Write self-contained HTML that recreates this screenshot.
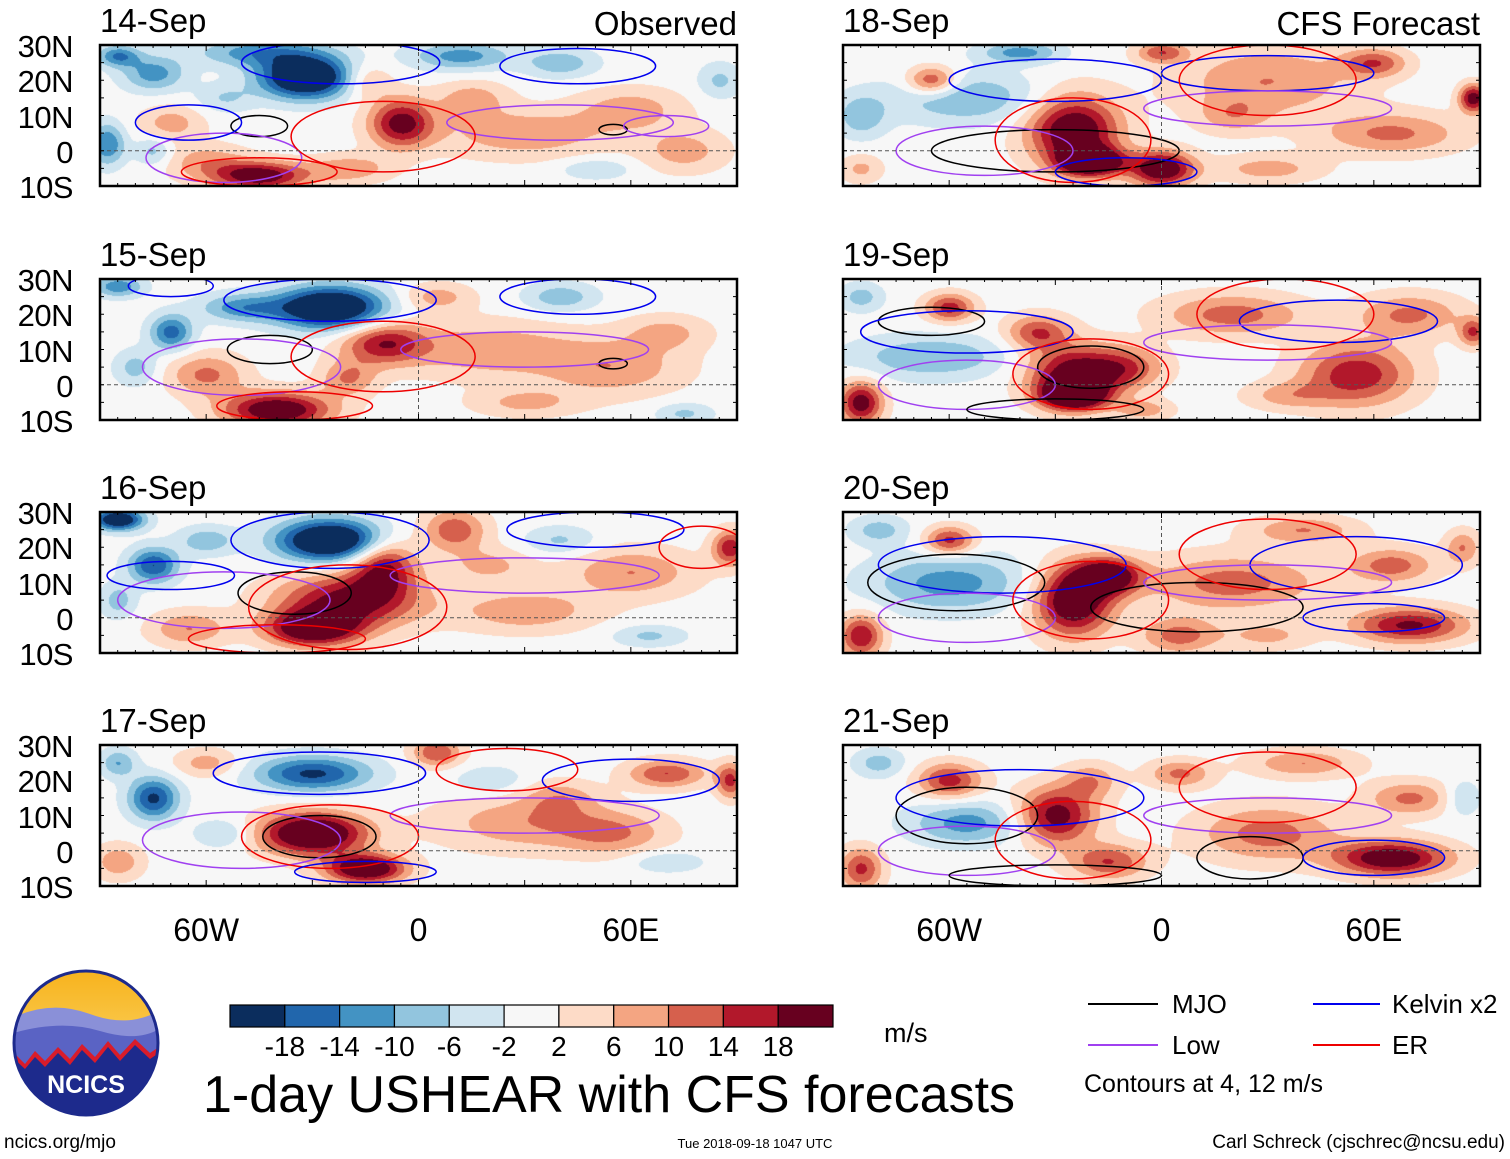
<!DOCTYPE html>
<html><head><meta charset="utf-8">
<style>
body{margin:0;background:#fff;width:1510px;height:1159px;position:relative;overflow:hidden;font-family:"Liberation Sans",sans-serif;}
.abs{position:absolute;}
.ptitle{position:absolute;font-size:33px;color:#000;line-height:1;}
.ylab{position:absolute;font-size:31px;width:72px;text-align:right;line-height:1;letter-spacing:-0.5px;}
.xlab{position:absolute;font-size:32px;width:120px;text-align:center;line-height:1;}
canvas{position:absolute;}
svg{position:absolute;}
</style></head>
<body>
<div id="root"></div>

<svg class="abs" style="left:10px;top:969px" width="152" height="152">
  <defs><clipPath id="lc"><circle cx="76" cy="74" r="72"/></clipPath>
  <linearGradient id="sky" x1="0" y1="0" x2="0" y2="1"><stop offset="0" stop-color="#f7b21c"/><stop offset="1" stop-color="#fde68a"/></linearGradient></defs>
  <g clip-path="url(#lc)">
    <rect x="0" y="0" width="152" height="152" fill="url(#sky)"/>
    <path d="M0 50 Q40 30 80 45 T152 40 L152 152 L0 152Z" fill="#8a90d8"/>
    <path d="M0 65 Q50 50 90 62 T152 58 L152 152 L0 152Z" fill="#5a63c4"/>
    <path d="M0 80 L15 95 L25 82 L35 92 L48 78 L60 90 L72 75 L85 88 L98 72 L110 86 L125 70 L140 84 L152 76 L152 152 L0 152Z" fill="#d91c2a"/>
    <path d="M0 86 L15 100 L25 88 L35 98 L48 84 L60 96 L72 81 L85 94 L98 78 L110 92 L125 76 L140 90 L152 82 L152 152 L0 152Z" fill="#1d2a8c"/>
  </g>
  <circle cx="76" cy="74" r="72" fill="none" stroke="#1d2a8c" stroke-width="3"/>
  <text x="76" y="124" text-anchor="middle" font-family="Liberation Sans" font-weight="bold" font-size="25" fill="#fff">NCICS</text>
</svg>

<div class="abs" style="left:4px;top:1132px;font-size:19px">ncics.org/mjo</div>
<div class="abs" style="left:655px;top:1136px;font-size:13px;width:200px;text-align:center">Tue 2018-09-18 1047 UTC</div>
<div class="abs" style="right:5px;top:1132px;font-size:19px">Carl Schreck (cjschrec@ncsu.edu)</div>
<div class="abs" style="left:203px;top:1065px;font-size:52px;white-space:nowrap">1-day USHEAR with CFS forecasts</div>
<div class="abs" style="left:884px;top:1018px;font-size:27px">m/s</div>

<svg class="abs" style="left:1080px;top:985px" width="430" height="120">
  <line x1="8" y1="19" x2="78" y2="19" stroke="#000" stroke-width="2"/>
  <text x="92" y="28" font-size="26" font-family="Liberation Sans">MJO</text>
  <line x1="233" y1="19" x2="300" y2="19" stroke="#0000ee" stroke-width="2"/>
  <text x="312" y="28" font-size="26" font-family="Liberation Sans">Kelvin x2</text>
  <line x1="8" y1="60" x2="78" y2="60" stroke="#a040f0" stroke-width="2"/>
  <text x="92" y="69" font-size="26" font-family="Liberation Sans">Low</text>
  <line x1="233" y1="60" x2="300" y2="60" stroke="#ee0000" stroke-width="2"/>
  <text x="312" y="69" font-size="26" font-family="Liberation Sans">ER</text>
  <text x="4" y="107" font-size="25" font-family="Liberation Sans">Contours at 4, 12 m/s</text>
</svg>

<svg class="abs" id="cbar" style="left:220px;top:995px" width="640" height="70"></svg>

<script>
const levels = [-18,-14,-10,-6,-2,2,6,10,14,18];
const colors = ['#0b2d5d','#2166ac','#4393c3','#92c5de','#d1e5f0','#f7f7f7','#fddbc7','#f4a582','#d6604d','#b2182b','#67001f'];
const lonTicks = [-60,0,60];
const lonTickLabels = ['60W','0','60E'];
const latTicks = [30,20,10,0,-10];
const latTickLabels = ['30N','20N','10N','0','10S'];
const panelDates = ['14-Sep','15-Sep','16-Sep','17-Sep','18-Sep','19-Sep','20-Sep','21-Sep'];
// blobs: [lon, lat, amplitude m/s, lonRadius, latRadius]
const field14 = [[-32,21,-30,13,6],[-45,28,-12,18,4],[-75,22,-12,9,5],[12,27,-12,14,4],[-88,2,-14,5,6],[-5,8,20,9,7],[-45,-7,22,13,4],[-70,8,8,9,5],[-60,-3,8,12,5],[30,5,9,25,7],[60,12,8,15,6],[75,0,8,12,6],[-20,-5,9,12,4],[-15,20,8,7,5],[-85,27,-14,6,3],[40,25,-9,10,4],[-75,0,-8,5,4],[15,15,8,10,5],[50,-5,-6,10,3],[85,20,-7,6,5],[-55,15,-6,8,4]];
const field15 = [[-25,22,-30,15,6],[-70,15,-16,6,5],[-85,28,-13,7,3],[-10,12,17,12,6],[-40,-7,24,15,5],[-60,3,11,11,6],[20,10,9,25,8],[55,5,9,20,8],[-50,22,-12,12,4],[40,25,-9,10,4],[75,-8,-7,8,3],[-80,5,-8,6,5],[5,25,8,10,4],[30,-5,7,15,4],[70,15,7,12,5],[-20,2,10,8,5]];
const field16 = [[-25,22,-30,15,6],[-85,28,-26,7,3],[-75,15,-18,7,5],[-20,5,20,20,8],[-30,-3,24,13,5],[-10,15,18,9,8],[10,25,13,9,6],[60,13,10,18,7],[88,20,17,5,5],[-65,-3,10,11,5],[30,2,9,20,6],[65,-5,-7,10,3],[-60,22,-9,8,4],[40,22,-7,10,4],[-85,5,-8,5,5],[20,15,7,12,5]];
const field17 = [[-30,5,28,15,6],[-15,-5,26,11,4],[-30,22,-19,16,5],[-75,15,-19,7,6],[70,22,14,11,4],[5,28,14,7,4],[30,8,9,25,8],[-60,25,8,9,4],[-85,-3,9,7,5],[88,20,15,4,5],[55,5,9,15,6],[-55,5,-7,8,4],[20,20,-6,10,4],[70,-3,-6,10,3],[-85,25,-10,5,4],[40,15,7,10,5]];
const field18 = [[-25,6,24,13,10],[-20,-3,27,9,4],[0,-5,24,9,5],[-55,15,-10,22,7],[-65,20,16,7,4],[30,20,10,25,10],[88,15,21,4,4],[65,5,11,20,6],[0,28,13,7,3],[-85,10,-9,7,6],[60,25,13,9,4],[-40,28,-12,11,3],[-85,-5,7,6,4],[30,-5,8,15,4],[20,10,7,10,5]];
const field19 = [[-25,3,22,13,8],[-25,-3,25,9,4],[-85,-5,21,6,6],[-60,22,16,7,4],[-65,8,-10,22,6],[55,3,17,16,9],[20,20,12,20,6],[70,20,11,15,6],[-35,15,14,9,5],[-10,5,12,11,6],[88,15,14,4,4],[-5,-7,8,8,3],[35,-3,7,12,4],[-85,25,-8,6,4]];
const field20 = [[-25,5,25,11,10],[-15,12,22,9,5],[-60,10,-12,22,8],[-60,22,16,7,4],[70,-2,19,16,5],[20,10,12,25,8],[-85,-5,18,6,6],[65,15,12,12,5],[40,25,10,15,4],[5,-5,12,11,5],[-80,25,-8,8,4],[85,20,10,5,5],[30,-5,7,12,4]];
const field21 = [[-30,10,21,11,8],[-60,20,16,9,5],[-55,8,-12,16,6],[65,-2,23,16,5],[30,5,12,20,8],[-85,-5,15,6,6],[-15,-3,14,11,5],[70,15,11,12,5],[40,25,10,15,4],[5,22,11,9,4],[-80,25,-8,7,4],[-20,20,9,8,5],[85,15,-7,5,5]];
const fields = [field14,field15,field16,field17,field18,field19,field20,field21];
// contours: [lon, lat, lonRadius, latRadius, type]
const cont14 = [[-45,7,8,3,'m'],[55,6,4,1.5,'m'],[-22,25,28,6,'k'],[45,24,22,5,'k'],[-55,-2,22,7,'l'],[40,8,32,5,'l'],[-10,4,26,10,'e'],[-45,-6,22,4,'e'],[-65,8,15,5,'k'],[70,7,12,3,'l']];
const cont15 = [[-42,10,12,4,'m'],[55,6,4,1.5,'m'],[-25,24,30,6,'k'],[45,25,22,5,'k'],[-50,5,28,8,'l'],[30,10,35,5,'l'],[-10,8,26,10,'e'],[-35,-6,22,4,'e'],[-70,28,12,3,'k']];
const cont16 = [[-35,7,16,6,'m'],[-25,22,28,8,'k'],[50,25,25,5,'k'],[-55,5,30,8,'l'],[30,12,38,5,'l'],[-20,3,28,12,'e'],[-40,-6,25,4,'e'],[80,20,12,6,'e'],[-70,12,18,4,'k']];
const cont17 = [[-28,4,16,6,'m'],[-28,22,30,6,'k'],[60,20,25,6,'k'],[-50,3,28,8,'l'],[30,10,38,5,'l'],[-25,4,25,9,'e'],[25,23,20,6,'e'],[-15,-6,20,3,'k']];
const cont18 = [[-30,0,35,6,'m'],[-30,20,30,6,'k'],[30,22,30,5,'k'],[-50,0,25,7,'l'],[30,12,35,5,'l'],[-25,3,22,12,'e'],[30,20,25,10,'e'],[-10,-6,20,4,'k']];
const cont19 = [[-20,5,15,6,'m'],[-65,18,15,4,'m'],[-55,15,30,6,'k'],[50,18,28,6,'k'],[-55,0,25,7,'l'],[30,12,35,5,'l'],[-20,3,22,10,'e'],[35,20,25,10,'e'],[-30,-7,25,3,'m']];
const cont20 = [[-58,10,25,8,'m'],[10,3,30,7,'m'],[-45,15,35,8,'k'],[55,15,30,8,'k'],[-55,0,25,7,'l'],[30,10,35,5,'l'],[-20,5,22,11,'e'],[30,18,25,10,'e'],[60,0,20,4,'k']];
const cont21 = [[-55,10,20,8,'m'],[25,-2,15,6,'m'],[-40,15,35,8,'k'],[60,-2,20,5,'k'],[-55,0,25,7,'l'],[30,10,35,5,'l'],[-25,3,22,11,'e'],[30,18,25,10,'e'],[-30,-7,30,3,'m']];
const conts = [cont14,cont15,cont16,cont17,cont18,cont19,cont20,cont21];
const contColor = {m:'#000000',k:'#0000ee',l:'#a040f0',e:'#ee0000'};

const panelLeft = [100,843];
const panelTop = [45,279,512,745];
const PW = 637, PH = 141;
function xScale(lon){return (lon+90)/180*PW;}
function yScale(lat){return (30-lat)/40*PH;}
function hexRGB(h){return [parseInt(h.slice(1,3),16),parseInt(h.slice(3,5),16),parseInt(h.slice(5,7),16)];}
const rgbs = colors.map(hexRGB);

const root = document.getElementById('root');
const NS='http://www.w3.org/2000/svg';
for(let p=0;p<8;p++){
  const col = p<4?0:1, row=p%4;
  const L=panelLeft[col], T=panelTop[row];
  const cv=document.createElement('canvas');
  cv.width=PW;cv.height=PH;cv.style.left=L+'px';cv.style.top=T+'px';
  
  
  root.appendChild(cv);
  const ctx=cv.getContext('2d');const img=ctx.createImageData(PW,PH);
  const f=fields[p];
  for(let y=0;y<PH;y++){const lat=30-y/PH*40;
    for(let x=0;x<PW;x++){const lon=-90+x/PW*180;let v=0;
      for(const b of f){const dx=(lon-b[0])/b[3],dy=(lat-b[1])/b[4];v+=b[2]*Math.exp(-(dx*dx+dy*dy));}
      let i=0;while(i<levels.length && v>levels[i]) i++;const c=rgbs[i];const k=(y*PW+x)*4;
      img.data[k]=c[0];img.data[k+1]=c[1];img.data[k+2]=c[2];img.data[k+3]=255;}}
  ctx.putImageData(img,0,0);
  const svg=document.createElementNS(NS,'svg');
  svg.setAttribute('width',PW+10);svg.setAttribute('height',PH+10);
  svg.style.left=(L-5)+'px';svg.style.top=(T-5)+'px';
  
  
  const cp=document.createElementNS(NS,'clipPath');cp.setAttribute('id','cp'+p);
  const cr=document.createElementNS(NS,'rect');cr.setAttribute('width',PW);cr.setAttribute('height',PH);cp.appendChild(cr);svg.appendChild(cp);
  const g=document.createElementNS(NS,'g');g.setAttribute('transform','translate(5,5)');svg.appendChild(g);
  const gc=document.createElementNS(NS,'g');gc.setAttribute('clip-path','url(#cp'+p+')');g.appendChild(gc);
  for(const c of conts[p]){
    const e=document.createElementNS(NS,'ellipse');
    
    
    const x1=xScale(c[0]),y1=yScale(c[1]);
    e.setAttribute('cx',x1);e.setAttribute('cy',y1);
    e.setAttribute('rx',xScale(c[0]+c[2])-x1);e.setAttribute('ry',yScale(c[1]-c[3])-y1);
    e.setAttribute('fill','none');e.setAttribute('stroke',contColor[c[4]]);e.setAttribute('stroke-width','1.5');
    gc.appendChild(e);}
  const eq=document.createElementNS(NS,'line');
  
  
  eq.setAttribute('x1',0);eq.setAttribute('x2',PW);eq.setAttribute('y1',yScale(0));eq.setAttribute('y2',yScale(0));
  eq.setAttribute('stroke','#555');eq.setAttribute('stroke-dasharray','4,3');g.appendChild(eq);
  const pm=document.createElementNS(NS,'line');
  
  
  pm.setAttribute('x1',xScale(0));pm.setAttribute('x2',xScale(0));pm.setAttribute('y1',0);pm.setAttribute('y2',PH);
  pm.setAttribute('stroke','#555');pm.setAttribute('stroke-dasharray','4,3');g.appendChild(pm);
  for(let lon=-90;lon<=90;lon+=5){const x=xScale(lon);const len=(lon%30===0)?6:3;
    for(const yy of [0,PH]){const t=document.createElementNS(NS,'line');
      
      
      t.setAttribute('x1',x);t.setAttribute('x2',x);t.setAttribute('y1',yy);t.setAttribute('y2',yy===0?len:PH-len);
      t.setAttribute('stroke','#000');g.appendChild(t);}}
  for(let lat=-10;lat<=30;lat+=5){const y=yScale(lat);
    for(const xx of [0,PW]){const t=document.createElementNS(NS,'line');
      
      
      t.setAttribute('x1',xx);t.setAttribute('x2',xx===0?4:PW-4);t.setAttribute('y1',y);t.setAttribute('y2',y);
      t.setAttribute('stroke','#000');g.appendChild(t);}}
  const fr=document.createElementNS(NS,'rect');
  
  
  fr.setAttribute('x',0);fr.setAttribute('y',0);fr.setAttribute('width',PW);fr.setAttribute('height',PH);
  fr.setAttribute('fill','none');fr.setAttribute('stroke','#000');fr.setAttribute('stroke-width','2.5');g.appendChild(fr);
  root.appendChild(svg);
  const t=document.createElement('div');t.className='ptitle';t.textContent=panelDates[p];
  t.style.left=L+'px';t.style.top=(T-41)+'px';
  
  
  root.appendChild(t);
  if(row===0){const s=document.createElement('div');s.className='ptitle';s.textContent=col===0?'Observed':'CFS Forecast';
    s.style.right=(1510-L-PW)+'px';s.style.top=(T-38)+'px';
    
    
    root.appendChild(s);}
  if(col===0){for(let i=0;i<latTicks.length;i++){const d=document.createElement('div');d.className='ylab';
    d.textContent=latTickLabels[i];d.style.left='1px';d.style.top=(T+yScale(latTicks[i])-14)+'px';
    
    
    root.appendChild(d);}}
  if(row===3){for(let i=0;i<lonTicks.length;i++){const d=document.createElement('div');d.className='xlab';
    d.textContent=lonTickLabels[i];d.style.left=(L+xScale(lonTicks[i])-60)+'px';d.style.top='914px';
    
    
    root.appendChild(d);}}
}
const cb=document.getElementById('cbar');const bw=603/11;
for(let i=0;i<11;i++){const r=document.createElementNS(NS,'rect');
  
  
  r.setAttribute('x',10+i*bw);r.setAttribute('y',10);r.setAttribute('width',bw);r.setAttribute('height',22);
  r.setAttribute('fill',colors[i]);r.setAttribute('stroke','#000');r.setAttribute('stroke-width','1.2');cb.appendChild(r);}
for(let i=0;i<levels.length;i++){const t=document.createElementNS(NS,'text');
  
  
  t.setAttribute('x',10+(i+1)*bw);t.setAttribute('y',61);t.setAttribute('text-anchor','middle');
  t.setAttribute('font-size','28');t.setAttribute('font-family','Liberation Sans');t.textContent=levels[i];cb.appendChild(t);}
</script>
</body></html>
